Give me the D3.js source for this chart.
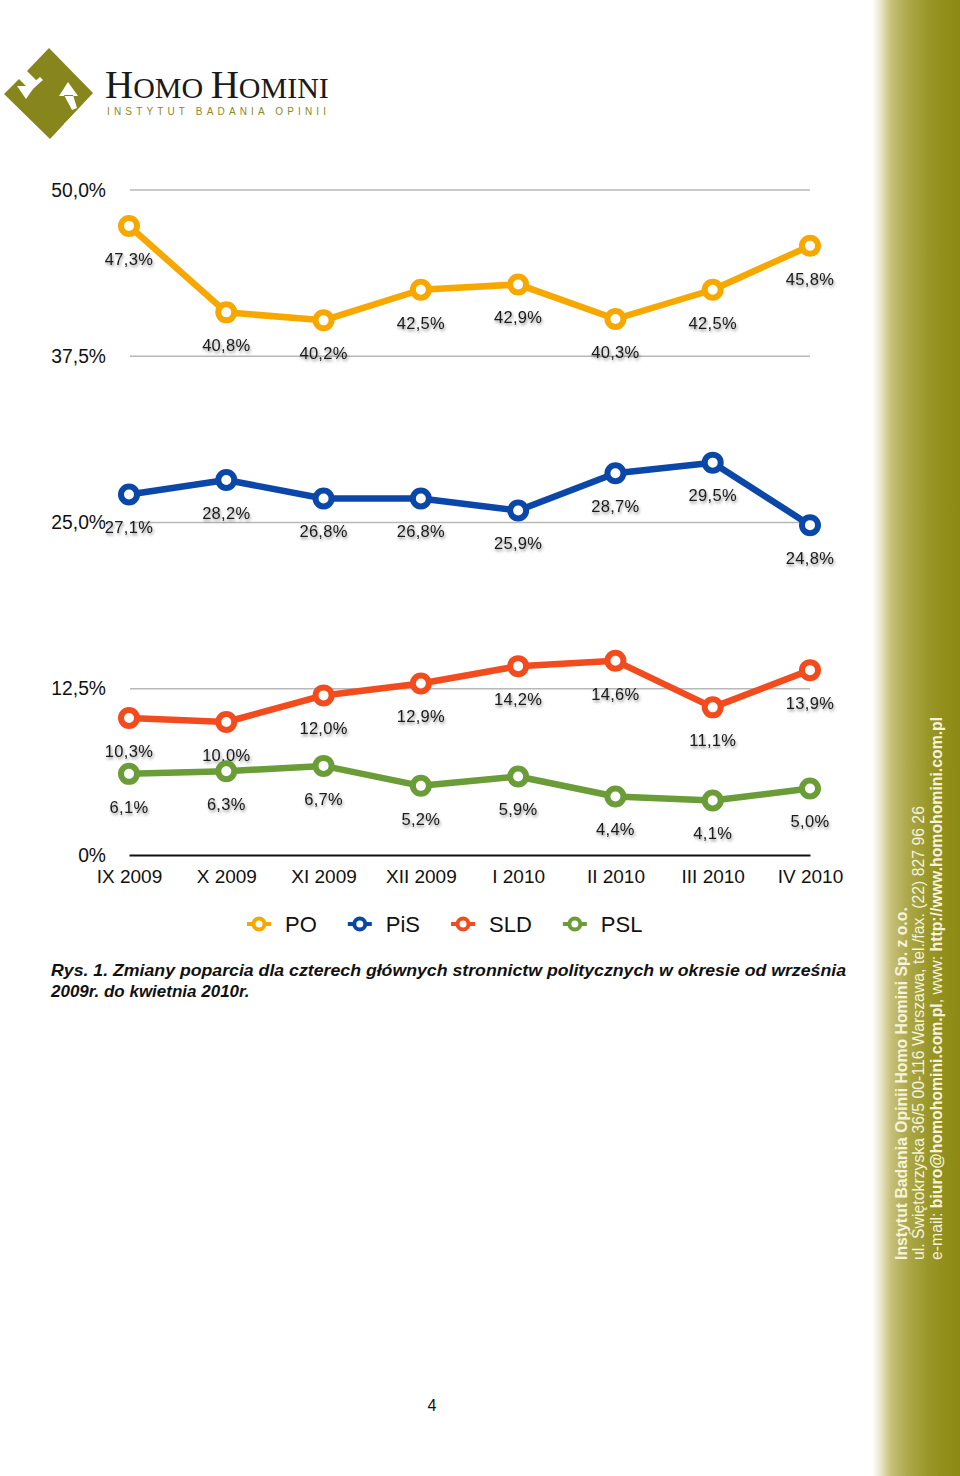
<!DOCTYPE html>
<html>
<head>
<meta charset="utf-8">
<script src="https://cdn.jsdelivr.net/npm/d3@7"></script>
<style>
  html, body { margin: 0; padding: 0; background: #fff; }
  svg { display: block; }
  text { font-family: "Liberation Sans", Arial, Helvetica, sans-serif; }
</style>
</head>
<body>
<svg id="chart" width="960" height="1476"></svg>
<script>
// ---- Data ----
const categories = ["IX 2009", "X 2009", "XI 2009", "XII 2009", "I 2010", "II 2010", "III 2010", "IV 2010"];
const seriesNames = ["PO", "PiS", "SLD", "PSL"];
const poValues  = [47.3, 40.8, 40.2, 42.5, 42.9, 40.3, 42.5, 45.8];
const pisValues = [27.1, 28.2, 26.8, 26.8, 25.9, 28.7, 29.5, 24.8];
const sldValues = [10.3, 10.0, 12.0, 12.9, 14.2, 14.6, 11.1, 13.9];
const pslValues = [6.1, 6.3, 6.7, 5.2, 5.9, 4.4, 4.1, 5.0];
const yTickValues = [0, 12.5, 25, 37.5, 50];
const yTickLabels = ["0%", "12,5%", "25,0%", "37,5%", "50,0%"];
const seriesColors = ["#F7A800", "#0B47A8", "#F24C1E", "#6A9C38"];

const series = [poValues, pisValues, sldValues, pslValues].map((vals, i) => ({
  name: seriesNames[i], color: seriesColors[i],
  values: vals.map((v, j) => ({ cat: categories[j], v }))
}));

const svg = d3.select("#chart");
const defs = svg.append("defs");

// sidebar gradient
const grad = defs.append("linearGradient").attr("id", "side").attr("x1", "0").attr("x2", "1").attr("y1", "0").attr("y2", "0");
[["0%", "#ffffff"], ["8%", "#ecebd3"], ["22%", "#c6bf78"], ["40%", "#ada94c"], ["62%", "#9b982b"], ["82%", "#918e1b"], ["100%", "#8d8a15"]]
  .forEach(s => grad.append("stop").attr("offset", s[0]).attr("stop-color", s[1]));

const shadow = defs.append("filter").attr("id", "sh").attr("x", "-20%").attr("y", "-40%").attr("width", "150%").attr("height", "200%");
shadow.append("feDropShadow").attr("dx", 1).attr("dy", 2).attr("stdDeviation", 1.6)
  .attr("flood-color", "#000").attr("flood-opacity", 0.45);

// ---- Sidebar ----
svg.append("rect").attr("x", 872).attr("y", 0).attr("width", 88).attr("height", 1476).attr("fill", "url(#side)");
const side = svg.append("g").attr("fill", "#f6f3dc").style("font-size", "15.8px");
side.append("text").attr("transform", "translate(907,1260) rotate(-90)")
  .style("font-weight", "bold").text("Instytut Badania Opinii Homo Homini Sp. z o.o.");
side.append("text").attr("transform", "translate(924,1260) rotate(-90)")
  .text("ul. Świętokrzyska 36/5 00-116 Warszawa, tel./fax. (22) 827 96 26");
const l3 = side.append("text").attr("transform", "translate(942,1260) rotate(-90)");
l3.append("tspan").text("e-mail: ");
l3.append("tspan").style("font-weight", "bold").text("biuro@homohomini.com.pl");
l3.append("tspan").text(", www: ");
l3.append("tspan").style("font-weight", "bold").text("http://www.homohomini.com.pl");

// ---- Logo ----
const logo = svg.append("g");
const olive = "#86861d";
logo.append("path").attr("fill", olive).attr("d",
  "M49,48 L93,93 L50,139 L4,94 L19,79 L31,91 L39,83 L27,71 Z");
// notch on lower-right edge
logo.append("path").attr("fill", "#fff").attr("d", "M64,124 L76,112 L84,120 L72,132 Z");
// left arrow pointing down
logo.append("path").attr("fill", "#fff").attr("d",
  "M17,86 L35,86 L26,99 Z M27,88 L40,77 L43,80 L30,91 Z");
// right arrow pointing up
logo.append("path").attr("fill", "#fff").attr("d",
  "M59,96 L78,96 L68,82 Z M64,95 L73,95 L77,108 L72,110 Z");
const brand = logo.append("text").attr("x", 105).attr("y", 98)
  .style("font-family", "'Liberation Serif', 'DejaVu Serif', serif").attr("fill", "#1a1a1a");
brand.append("tspan").style("font-size", "39px").text("H");
brand.append("tspan").style("font-size", "30px").text("OMO ");
brand.append("tspan").style("font-size", "39px").text("H");
brand.append("tspan").style("font-size", "30px").text("OMINI");
logo.append("text").attr("x", 107).attr("y", 115).attr("fill", "#8b8a22")
  .style("font-size", "10px").attr("textLength", 219).attr("lengthAdjust", "spacing")
  .text("INSTYTUT BADANIA OPINII");

// ---- Chart ----
const x = d3.scalePoint().domain(categories).range([129, 810]);
const y = d3.scaleLinear().domain([0, 50]).range([855, 190]);

// grid lines
svg.append("g").selectAll("line").data(yTickValues.filter(d => d > 0)).join("line")
  .attr("x1", 130).attr("x2", 810).attr("y1", d => y(d)).attr("y2", d => y(d))
  .attr("stroke", "#b8b8b8").attr("stroke-width", 1.5);

// y axis labels
const yAxis = svg.append("g").attr("transform", "translate(106,0)")
  .call(d3.axisLeft(y).tickValues(yTickValues).tickFormat((d, i) => yTickLabels[i]).tickSize(0).tickPadding(0));
yAxis.select(".domain").remove();
yAxis.selectAll("text").style("font-size", "19.3px").attr("fill", "#111").style("font-family", "'Liberation Sans', Arial, sans-serif");

// x axis
const xAxis = svg.append("g").attr("transform", "translate(0,855)")
  .call(d3.axisBottom(x).tickSize(0).tickPadding(15));
xAxis.select(".domain").attr("stroke", "#111").attr("stroke-width", 2);
xAxis.selectAll("text").style("font-size", "19px").attr("fill", "#111").style("font-family", "'Liberation Sans', Arial, sans-serif");

// lines
const line = d3.line().x(d => x(d.cat)).y(d => y(d.v));
const sg = svg.append("g").selectAll("g").data(series).join("g");
sg.append("path").attr("d", d => line(d.values)).attr("fill", "none")
  .attr("stroke", d => d.color).attr("stroke-width", 6.5).attr("stroke-linejoin", "round");
sg.each(function (s) {
  d3.select(this).selectAll("circle").data(s.values).join("circle")
    .attr("cx", d => x(d.cat)).attr("cy", d => y(d.v)).attr("r", 8)
    .attr("fill", "#fff").attr("stroke", s.color).attr("stroke-width", 6);
});
// data labels
const fmt = v => v.toFixed(1).replace(".", ",") + "%";
sg.each(function (s) {
  d3.select(this).selectAll("text").data(s.values).join("text")
    .attr("x", d => x(d.cat)).attr("y", d => y(d.v) + 33).attr("dy", "0.35em")
    .attr("text-anchor", "middle").style("font-size", "16.5px").attr("fill", "#1a1a1a")
    .style("letter-spacing", "0.3px").attr("filter", "url(#sh)")
    .text(d => fmt(d.v));
});

// legend
const legend = svg.append("g").attr("transform", "translate(0,924)");
let lx = 247;
series.forEach(s => {
  const g = legend.append("g");
  g.append("line").attr("x1", lx).attr("x2", lx + 24).attr("y1", 0).attr("y2", 0)
    .attr("stroke", s.color).attr("stroke-width", 4);
  g.append("circle").attr("cx", lx + 12).attr("cy", 0).attr("r", 5.5)
    .attr("fill", "#fff").attr("stroke", s.color).attr("stroke-width", 4);
  const t = g.append("text").attr("x", lx + 38).attr("y", 0).attr("dy", "0.36em")
    .style("font-size", "22px").attr("fill", "#111").text(s.name);
  lx = lx + 38 + t.node().getComputedTextLength() + 31;
});

// caption
const cap = svg.append("g").attr("fill", "#111")
  .style("font-family", "'Liberation Sans Narrow', 'Liberation Sans', Arial, sans-serif")
  .style("font-weight", "bold").style("font-style", "italic").style("font-size", "17px");
cap.append("text").attr("x", 51).attr("y", 976).attr("textLength", 795).attr("lengthAdjust", "spacingAndGlyphs")
  .text("Rys. 1. Zmiany poparcia dla czterech głównych stronnictw politycznych w okresie od września");
cap.append("text").attr("x", 51).attr("y", 997)
  .text("2009r. do kwietnia 2010r.");

// page number
svg.append("text").attr("x", 432).attr("y", 1411).attr("text-anchor", "middle")
  .style("font-size", "16px").attr("fill", "#111").text("4");
</script>
</body>
</html>
